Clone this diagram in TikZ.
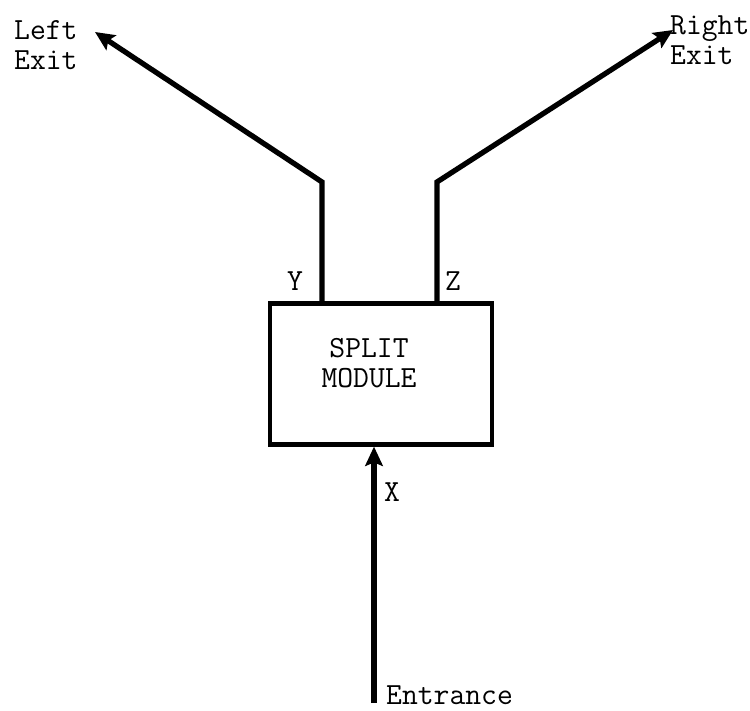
\documentclass[tikz,border=0pt]{standalone}
\usetikzlibrary{arrows.meta}

\begin{document}
\begin{tikzpicture}[
      x=0.02cm, y=-0.02cm,
      every node/.style={font=\ttfamily\fontsize{17.5}{17}\selectfont},
      flow/.style={line width=3pt, line join=miter},
      flowarrow/.style={flow, -{Stealth[length=11pt, width=10pt, inset=2pt]}},
      module/.style={draw, line width=2.4pt, minimum width=4.44cm, minimum height=2.82cm, inner sep=0pt}
    ]
    \useasboundingbox (0,0) rectangle (750,710);

    \node[module] (split) at (381,374) {};
    \node[align=center] (splittext) at (369,363) {SPLIT\\MODULE};

    % outputs and bends
    \coordinate (ybend) at (322,182);
    \coordinate (zbend) at (437,182);
    \coordinate (leftexit) at (95,32);
    \coordinate (rightexit) at (673,30);
    \coordinate (entrance) at (374,703);

    \draw[flowarrow] (split.north -| ybend) -- (ybend) -- (leftexit);
    \draw[flowarrow] (split.north -| zbend) -- (zbend) -- (rightexit);
    \draw[flowarrow] (entrance) -- (entrance |- split.south);

    \node (ylabel) at (295,281) {Y};
    \node (zlabel) at (453,281) {Z};
    \node (xlabel) at (392,492) {X};

    \node[anchor=west, align=left] (lefttext) at (8,45) {Left\\Exit};
    \node[anchor=west, align=left] (righttext) at (664,40) {Right\\Exit};
    \node[anchor=base west] (entrtext) at (380,704) {Entrance};

  \end{tikzpicture}
\end{document}
